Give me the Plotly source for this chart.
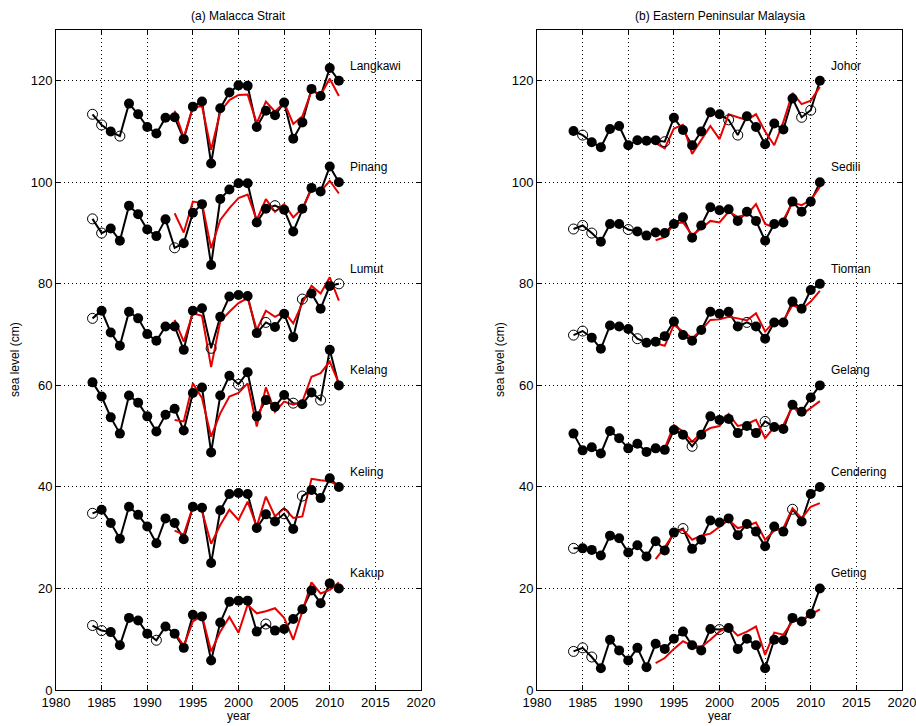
import plotly.graph_objects as go

years = list(range(1984, 2012))
alt_years = list(range(1993, 2012))

# ---------------- (a) Malacca Strait ----------------
langkawi_tg = [113.4, 111.3, 110.0, 109.1, 115.5, 113.4, 110.9, 109.6, 112.7, 112.8, 108.5, 114.9, 115.9, 103.7,
               114.6, 117.7, 119.1, 119.0, 110.9, 114.1, 113.2, 115.7, 108.6, 111.8, 118.4, 117.0, 122.5, 120.0]
langkawi_alt = [114.1, 108.8, 114.8, 115.0, 106.4, 113.9, 116.2, 117.2, 117.3, 111.6, 115.9, 113.9, 115.7, 111.5,
                113.0, 118.0, 117.2, 120.4, 117.0]
langkawi_open = [1984, 1985, 1987]

pinang_tg = [92.8, 90.0, 90.9, 88.5, 95.4, 93.7, 90.7, 89.4, 92.7, 87.1, 88.0, 94.0, 95.7, 83.7,
             96.7, 98.6, 99.8, 99.8, 92.1, 94.8, 95.4, 94.6, 90.3, 94.8, 98.9, 98.2, 103.1, 100.0]
pinang_alt = [93.9, 90.1, 96.2, 95.9, 87.0, 92.6, 94.9, 96.9, 97.6, 92.6, 96.7, 94.2, 95.7, 93.1,
              94.9, 98.6, 98.2, 100.3, 97.8]
pinang_open = [1984, 1985, 1993, 2004]

lumut_tg = [73.2, 74.7, 70.4, 67.8, 74.5, 73.2, 70.1, 68.8, 71.6, 71.6, 67.0, 74.7, 75.2, 67.3,
            73.5, 77.5, 77.8, 77.6, 70.3, 72.4, 71.5, 74.1, 69.5, 77.0, 78.1, 75.1, 79.6, 80.0]
lumut_alt = [72.9, 68.6, 74.2, 73.7, 63.6, 72.6, 74.5, 76.2, 77.2, 70.9, 74.7, 73.5, 74.5, 72.2,
             76.2, 79.6, 78.1, 81.3, 76.7]
lumut_open = [1984, 1997, 2003, 2007, 2011]

kelang_tg = [60.6, 57.8, 53.7, 50.5, 58.0, 56.6, 53.9, 50.9, 54.2, 55.4, 51.1, 58.5, 59.6, 46.8,
             58.0, 61.9, 60.2, 62.6, 53.9, 57.1, 55.8, 58.1, 56.5, 56.3, 58.6, 57.1, 67.0, 60.0]
kelang_alt = [53.2, 52.9, 60.4, 57.5, 49.9, 54.5, 57.8, 58.5, 60.4, 51.9, 59.6, 54.8, 56.8, 56.2,
              56.8, 61.7, 62.4, 64.7, 60.4]
kelang_open = [2000, 2006, 2009]

keling_tg = [34.8, 35.5, 32.9, 29.8, 36.1, 34.5, 32.2, 28.9, 33.8, 32.9, 29.7, 36.1, 35.9, 25.0,
             35.4, 38.6, 38.8, 38.6, 31.9, 34.6, 33.2, 34.7, 31.7, 38.2, 39.4, 37.8, 41.7, 40.0]
keling_alt = [31.4, 30.6, 36.1, 35.2, 28.8, 32.5, 35.5, 33.5, 37.1, 32.2, 38.1, 34.2, 35.8, 33.9,
              34.2, 41.6, 41.3, 41.1, 40.2]
keling_open = [1984, 2005, 2007]

kakup_tg = [12.7, 11.7, 11.4, 8.8, 14.2, 13.7, 11.1, 9.8, 12.5, 11.1, 8.3, 14.8, 14.5, 5.8,
            13.3, 17.4, 17.6, 17.6, 11.5, 13.0, 11.7, 12.0, 14.0, 15.9, 19.6, 17.1, 21.0, 20.0]
kakup_alt = [11.3, 8.7, 13.5, 14.6, 7.6, 11.5, 14.4, 11.3, 16.8, 15.1, 15.5, 16.1, 14.2, 9.9,
             15.5, 21.2, 19.0, 19.7, 21.2]
kakup_open = [1984, 1985, 1991, 2003]

# ---------------- (b) Eastern Peninsular Malaysia ----------------
johor_tg = [110.1, 109.3, 107.9, 106.9, 110.5, 111.1, 107.3, 108.3, 108.2, 108.3, 108.0, 112.7, 110.3, 107.3,
            110.0, 113.8, 113.4, 112.3, 109.3, 113.0, 110.9, 107.5, 111.6, 110.4, 116.5, 112.8, 114.2, 120.0]
johor_alt = [107.7, 106.7, 110.6, 111.3, 105.6, 108.3, 111.1, 108.5, 113.4, 112.8, 112.3, 113.4, 110.0, 107.3,
             111.9, 117.6, 115.4, 116.1, 118.8]
johor_open = [1985, 1994, 2001, 2002, 2009, 2010]

sedili_tg = [90.8, 91.5, 90.0, 88.3, 91.8, 91.8, 90.7, 90.3, 89.5, 90.1, 90.0, 91.8, 93.1, 89.1,
             91.5, 95.1, 94.5, 94.7, 92.4, 94.2, 92.4, 88.5, 91.8, 92.1, 96.2, 94.2, 96.2, 100.0]
sedili_alt = [88.6, 89.2, 91.9, 92.1, 89.6, 90.9, 92.4, 92.1, 94.2, 93.2, 93.6, 95.7, 91.8, 91.1,
              92.6, 96.0, 95.5, 96.5, 99.1]
sedili_open = [1984, 1985, 1986, 1990]

tioman_tg = [69.9, 70.7, 69.4, 67.2, 71.8, 71.6, 71.1, 69.2, 68.4, 68.6, 69.7, 72.6, 69.9, 68.8,
             70.9, 74.5, 74.1, 74.5, 71.6, 72.4, 71.6, 69.2, 72.4, 72.4, 76.5, 75.1, 78.8, 80.0]
tioman_alt = [68.3, 67.8, 71.9, 70.6, 69.3, 70.9, 72.9, 73.0, 73.5, 73.2, 72.8, 74.2, 70.6, 72.6,
              72.8, 75.8, 75.0, 76.5, 78.6]
tioman_open = [1984, 1985, 1991, 2003]

gelang_tg = [50.5, 47.2, 47.8, 46.6, 51.0, 49.6, 47.6, 48.5, 46.9, 47.6, 47.3, 51.2, 50.3, 48.0,
             50.3, 53.9, 53.2, 53.4, 50.6, 52.0, 50.6, 52.9, 51.8, 51.4, 56.2, 54.8, 57.6, 60.0]
gelang_alt = [47.3, 47.6, 52.2, 50.9, 48.9, 50.6, 51.6, 52.0, 54.4, 52.0, 52.4, 53.2, 49.6, 51.8,
              52.2, 55.8, 54.2, 55.5, 56.9]
gelang_open = [1997, 2005]

cendering_tg = [27.9, 27.9, 27.6, 26.5, 30.4, 29.9, 27.1, 28.5, 26.3, 29.3, 27.5, 31.0, 31.8, 27.8,
                29.6, 33.4, 33.0, 33.8, 30.5, 32.7, 31.2, 28.3, 32.2, 31.2, 35.6, 33.2, 38.6, 40.0]
cendering_alt = [25.8, 28.1, 30.9, 31.6, 29.6, 30.4, 30.8, 32.2, 33.5, 31.9, 32.3, 33.0, 29.6, 31.4,
                 31.9, 35.8, 33.8, 36.1, 36.8]
cendering_open = [1984, 1996, 2008]

geting_tg = [7.6, 8.3, 6.5, 4.3, 9.9, 7.8, 5.8, 8.3, 4.5, 9.1, 8.1, 10.1, 11.5, 8.8,
             7.8, 12.0, 11.9, 12.2, 8.1, 10.1, 8.8, 4.3, 9.9, 9.8, 14.2, 13.5, 15.0, 20.0]
geting_alt = [5.3, 6.3, 8.1, 9.6, 8.7, 8.5, 9.9, 11.5, 12.5, 10.7, 11.5, 12.5, 6.9, 11.3,
              10.9, 13.5, 13.8, 14.8, 15.9]
geting_open = [1984, 1985, 1986, 2000]

panel_a_names = ["Langkawi", "Pinang", "Lumut", "Kelang", "Keling", "Kakup"]
panel_b_names = ["Johor", "Sedili", "Tioman", "Gelang", "Cendering", "Geting"]
station_offsets = [120, 100, 80, 60, 40, 20]

panel_a = [(langkawi_tg, langkawi_alt, langkawi_open), (pinang_tg, pinang_alt, pinang_open),
           (lumut_tg, lumut_alt, lumut_open), (kelang_tg, kelang_alt, kelang_open),
           (keling_tg, keling_alt, keling_open), (kakup_tg, kakup_alt, kakup_open)]
panel_b = [(johor_tg, johor_alt, johor_open), (sedili_tg, sedili_alt, sedili_open),
           (tioman_tg, tioman_alt, tioman_open), (gelang_tg, gelang_alt, gelang_open),
           (cendering_tg, cendering_alt, cendering_open), (geting_tg, geting_alt, geting_open)]

x_ticks = [1980, 1985, 1990, 1995, 2000, 2005, 2010, 2015, 2020]
y_ticks = [0, 20, 40, 60, 80, 100, 120]

FONT = "Liberation Sans, Arial, sans-serif"
RED = "#e60000"

fig = go.Figure()


def add_panel(stations, names, xa, ya):
    for (tg, alt, opn), name, off in zip(stations, names, station_offsets):
        fig.add_trace(go.Scatter(x=years, y=tg, mode="lines", line=dict(color="black", width=2),
                                 xaxis=xa, yaxis=ya, showlegend=False, hoverinfo="skip"))
        fig.add_trace(go.Scatter(x=alt_years, y=alt, mode="lines", line=dict(color=RED, width=2),
                                 xaxis=xa, yaxis=ya, showlegend=False))
        fy = [y for y, v in zip(years, tg) if y not in opn]
        fv = [v for y, v in zip(years, tg) if y not in opn]
        oy = [y for y, v in zip(years, tg) if y in opn]
        ov = [v for y, v in zip(years, tg) if y in opn]
        fig.add_trace(go.Scatter(x=fy, y=fv, mode="markers",
                                 marker=dict(color="black", size=10, symbol="circle"),
                                 xaxis=xa, yaxis=ya, showlegend=False))
        fig.add_trace(go.Scatter(x=oy, y=ov, mode="markers",
                                 marker=dict(color="black", size=10, symbol="circle-open",
                                             line=dict(width=1)),
                                 xaxis=xa, yaxis=ya, showlegend=False))
        fig.add_annotation(x=2012, y=off + 3, text=name, xref=xa, yref=ya, showarrow=False,
                           xanchor="left", yanchor="middle", font=dict(size=12, color="black", family=FONT))


add_panel(panel_a, panel_a_names, "x", "y")
add_panel(panel_b, panel_b_names, "x2", "y2")

W, H = 916, 726
L, T = 56, 30
R = W - 902
B = H - 690
PW = W - L - R
PH = H - T - B
ax_common = dict(showline=True, linecolor="black", linewidth=1, mirror="allticks",
                 ticks="inside", ticklen=5, tickcolor="black", automargin=False,
                 ticklabeloverflow="allow",
                 showgrid=True, gridcolor="#000000", griddash="1px,3px", gridwidth=1,
                 zeroline=False, tickfont=dict(size=13, color="black", family=FONT))

fig.update_layout(
    width=W, height=H, autosize=False,
    margin=dict(l=L, r=R, t=T, b=B, pad=0, autoexpand=False),
    paper_bgcolor="white", plot_bgcolor="white",
    showlegend=False,
    xaxis=dict(domain=[0, (421 - L) / PW], range=[1980, 2020], tickvals=x_ticks, anchor="y", **ax_common),
    yaxis=dict(domain=[0, 1], range=[0, 130], tickvals=y_ticks, anchor="x", **ax_common),
    xaxis2=dict(domain=[(537 - L) / PW, 1], range=[1980, 2020], tickvals=x_ticks, anchor="y2", **ax_common),
    yaxis2=dict(domain=[0, 1], range=[0, 130], tickvals=y_ticks, anchor="x2", **ax_common),
)


def px_x(px):
    return (px - L) / PW


def px_y(py):
    return (H - B - py) / PH


titles = [("(a) Malacca Strait", (56 + 421) / 2), ("(b) Eastern Peninsular Malaysia", (537 + 902) / 2)]
for t, xc in titles:
    fig.add_annotation(x=px_x(xc), y=px_y(16), xref="paper", yref="paper", text=t, showarrow=False,
                       xanchor="center", yanchor="middle", font=dict(size=12, color="black", family=FONT))
    fig.add_annotation(x=px_x(xc), y=px_y(716), xref="paper", yref="paper", text="year", showarrow=False,
                       xanchor="center", yanchor="middle", font=dict(size=12, color="black", family=FONT))

for xc in [15, 500]:
    fig.add_annotation(x=px_x(xc), y=px_y(360), xref="paper", yref="paper", text="sea level (cm)",
                       showarrow=False, textangle=-90, xanchor="center", yanchor="middle",
                       font=dict(size=12, color="black", family=FONT))

fig.write_html("out.html", config={"displayModeBar": False},
               post_script="document.body.style.margin='0px';")
